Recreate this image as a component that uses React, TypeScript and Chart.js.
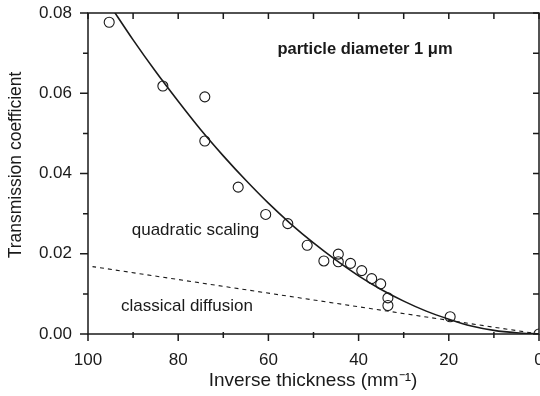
import React, { useEffect, useRef } from "react";
import { Chart, registerables } from "chart.js";

Chart.register(...registerables);

// Measured data (inverse thickness in mm^-1, transmission coefficient)
const measX = [95.3, 83.4, 74.1, 74.1, 66.7, 60.6, 55.7, 51.4, 47.7, 44.5, 44.5, 41.8, 39.3, 37.1, 35.1, 33.5, 33.5, 19.7, 0];
const measY = [0.0777, 0.0618, 0.0591, 0.0481, 0.0366, 0.0298, 0.0275, 0.0221, 0.0182, 0.0199, 0.0180, 0.0176, 0.0158, 0.0138, 0.0125, 0.0090, 0.0071, 0.0043, 0.0];

// Quadratic scaling curve
const quadX = [0, 5, 10, 15, 20, 25, 30, 35, 40, 45, 50, 55, 60, 65, 70, 75, 80, 85, 90, 95];
const quadY = [0, 0.0003, 0.0009, 0.0020, 0.0037, 0.0057, 0.0082, 0.0111, 0.0145, 0.0184, 0.0227, 0.0274, 0.0326, 0.0383, 0.0444, 0.0509, 0.0580, 0.0654, 0.0733, 0.0817];

// Classical diffusion (dashed)
const diffX = [0, 99];
const diffY = [0, 0.0168];

const xMajorTicks = [100, 80, 60, 40, 20, 0];
const xMinorTicks = [90, 70, 50, 30, 10];
const yMajorTicks = [0, 0.02, 0.04, 0.06, 0.08];
const yMinorTicks = [0.01, 0.03, 0.05, 0.07];

const titleText = "particle diameter 1 \u03bcm";
const quadLabel = "quadratic scaling";
const diffLabel = "classical diffusion";
const xTitle = "Inverse thickness (mm\u207b\u00b9)";
const yTitle = "Transmission coefficient";

const FONT = "'Liberation Sans', Arial, Helvetica, sans-serif";
const INK = "#1a1a1a";

// target plot-area box inside the 540x396 canvas
const AREA = { left: 88, right: 539, top: 13, bottom: 334 };

const framePlugin = {
  id: "frameTicks",
  afterDraw(chart: any) {
    const ctx = chart.ctx;
    const { left, right, top, bottom } = chart.chartArea;
    const xs = chart.scales.x;
    const ys = chart.scales.y;
    ctx.save();
    ctx.strokeStyle = INK;
    ctx.lineWidth = 1.5;
    ctx.strokeRect(left, top, right - left, bottom - top);
    ctx.beginPath();
    for (const v of xMajorTicks) {
      const p = xs.getPixelForValue(v);
      ctx.moveTo(p, bottom); ctx.lineTo(p, bottom + 7);
      ctx.moveTo(p, top); ctx.lineTo(p, top + 6);
    }
    for (const v of xMinorTicks) {
      const p = xs.getPixelForValue(v);
      ctx.moveTo(p, bottom - 2); ctx.lineTo(p, bottom + 4);
      ctx.moveTo(p, top); ctx.lineTo(p, top + 6);
    }
    for (const v of yMajorTicks) {
      const p = ys.getPixelForValue(v);
      ctx.moveTo(left - 8, p); ctx.lineTo(left, p);
      ctx.moveTo(right, p); ctx.lineTo(right - 6, p);
    }
    for (const v of yMinorTicks) {
      const p = ys.getPixelForValue(v);
      ctx.moveTo(left - 5, p); ctx.lineTo(left, p);
      ctx.moveTo(right, p); ctx.lineTo(right - 6, p);
    }
    ctx.stroke();

    ctx.fillStyle = INK;
    ctx.textBaseline = "middle";
    ctx.textAlign = "left";
    ctx.font = `bold 16.5px ${FONT}`;
    ctx.fillText(titleText, xs.getPixelForValue(58), ys.getPixelForValue(0.0708));
    ctx.font = `17px ${FONT}`;
    ctx.fillText(quadLabel, xs.getPixelForValue(90.3), ys.getPixelForValue(0.0259));
    ctx.fillText(diffLabel, xs.getPixelForValue(92.7), ys.getPixelForValue(0.0070));

    ctx.font = `19px ${FONT}`;
    ctx.textAlign = "center";
    ctx.fillText(xTitle, 313, 381);
    ctx.font = `17.5px ${FONT}`;
    ctx.translate(16, 165);
    ctx.rotate(-Math.PI / 2);
    ctx.fillText(yTitle, 0, 0);
    ctx.restore();
  },
};

export default function App() {
  const ref = useRef<HTMLCanvasElement | null>(null);
  useEffect(() => {
    if (!ref.current) return;
    const toPts = (xs: number[], ys: number[]) => xs.map((x, i) => ({ x, y: ys[i] }));
    const chart = new Chart(ref.current, {
      type: "scatter",
      data: {
        datasets: [
          {
            label: "quadratic",
            data: toPts(quadX, quadY),
            showLine: true,
            borderColor: INK,
            borderWidth: 1.6,
            pointRadius: 0,
            cubicInterpolationMode: "monotone",
            fill: false,
          } as any,
          {
            label: "diffusion",
            data: toPts(diffX, diffY),
            showLine: true,
            borderColor: INK,
            borderWidth: 1.1,
            borderDash: [4, 4],
            pointRadius: 0,
            fill: false,
          } as any,
          {
            label: "measured",
            data: toPts(measX, measY),
            showLine: false,
            pointStyle: "circle",
            pointRadius: 5,
            pointBorderWidth: 1.1,
            borderColor: INK,
            backgroundColor: "rgba(0,0,0,0)",
          } as any,
        ],
      },
      options: {
        responsive: false,
        animation: false,
        layout: {
          autoPadding: false,
          padding: { top: AREA.top, right: 540 - AREA.right, left: 0, bottom: 0 },
        },
        plugins: { legend: { display: false }, tooltip: { enabled: false } },
        scales: {
          x: {
            type: "linear",
            reverse: true,
            min: 0,
            max: 100,
            grid: { display: false, drawTicks: false },
            border: { display: false },
            afterFit: (s: any) => {
              s.height = 396 - AREA.bottom;
              s.paddingLeft = 0; s.paddingRight = 0; s.paddingTop = 0; s.paddingBottom = 0;
            },
            afterBuildTicks: (s: any) => { s.ticks = xMajorTicks.map((v) => ({ value: v })); },
            ticks: {
              padding: 16,
              color: INK,
              font: { family: FONT, size: 17 },
              callback: (v: any) => String(v),
            },
          },
          y: {
            type: "linear",
            min: 0,
            max: 0.08,
            grid: { display: false, drawTicks: false },
            border: { display: false },
            afterFit: (s: any) => {
              s.width = AREA.left;
              s.paddingLeft = 0; s.paddingRight = 0; s.paddingTop = 0; s.paddingBottom = 0;
            },
            afterBuildTicks: (s: any) => { s.ticks = yMajorTicks.map((v) => ({ value: v })); },
            ticks: {
              padding: 16,
              color: INK,
              font: { family: FONT, size: 17 },
              callback: (v: any) => Number(v).toFixed(2),
            },
          },
        },
      },
      plugins: [framePlugin],
    });
    return () => chart.destroy();
  }, []);
  return (
    <div style={{ position: "fixed", left: 0, top: 0, width: 540, height: 396, background: "#fff" }}>
      <canvas ref={ref} width={540} height={396} />
    </div>
  );
}
